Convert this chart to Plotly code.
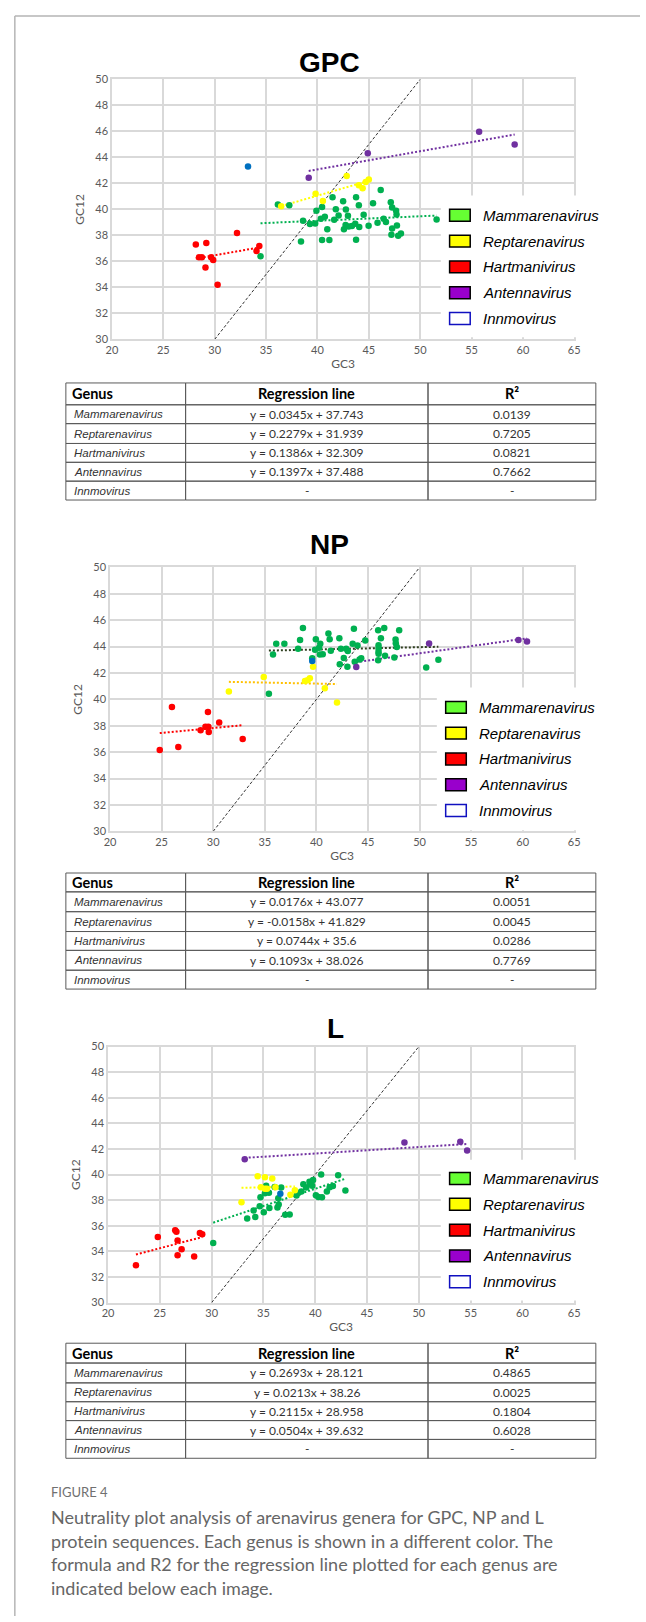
import re
import plotly.graph_objects as go

W, H = 646, 1622

# ---------------- data ----------------
GENERA = ["Mammarenavirus", "Reptarenavirus", "Hartmanivirus", "Antennavirus", "Innmovirus"]
PANELS = ["GPC", "NP", "L"]
TABLE_HEADER = ["Genus", "Regression line", "R²"]
X_TICKS = [20, 25, 30, 35, 40, 45, 50, 55, 60, 65]
Y_TICKS = [30, 32, 34, 36, 38, 40, 42, 44, 46, 48, 50]

# GPC
gpc_mamm_x = [34.46, 36.15, 37.26, 38.4, 38.6, 39.27, 39.78, 39.9, 40.45, 40.45, 40.33, 40.72, 40.96, 41.16, 41.47,
              41.63, 41.79, 42.06, 42.5, 42.58, 42.74, 42.77, 42.97, 43.05, 43.36, 43.68, 43.76, 43.76, 44.03, 44.07,
              44.5, 44.98, 45.41, 45.85, 46.16, 46.44, 46.67, 47.14, 47.27, 47.27, 47.2, 47.66, 47.7, 47.74, 47.86,
              48.13, 51.6]
gpc_mamm_y = [36.39, 40.37, 40.32, 37.52, 39.12, 38.87, 38.92, 39.89, 40.19, 37.64, 39.27, 39.43, 38.46, 37.64, 40.93,
              39.2, 40.0, 39.53, 40.62, 38.46, 38.79, 39.99, 39.5, 38.69, 38.71, 38.89, 40.93, 37.67, 40.32, 38.64,
              39.58, 38.74, 40.47, 38.97, 41.49, 39.27, 39.02, 40.55, 40.14, 38.53, 38.05, 39.89, 39.6, 38.76, 37.97,
              38.15, 39.22]
gpc_rept_x = [36.47, 39.82, 40.53, 42.85, 44.03, 44.4, 44.7, 45.0]
gpc_rept_y = [40.24, 41.21, 40.65, 42.56, 41.85, 41.62, 42.1, 42.3]
gpc_hart_x = [28.16, 29.18, 28.47, 28.75, 29.65, 29.85, 29.1, 30.28, 32.17, 34.07, 34.34]
gpc_hart_y = [37.29, 37.41, 36.32, 36.32, 36.32, 36.11, 35.53, 34.2, 38.18, 36.8, 37.18]
gpc_ante_x = [39.15, 44.9, 55.74, 59.2]
gpc_ante_y = [42.43, 44.32, 45.97, 45.0]
gpc_innm_x = [33.24]
gpc_innm_y = [43.3]
gpc_eq = ["y = 0.0345x + 37.743", "y = 0.2279x + 31.939", "y = 0.1386x + 32.309", "y = 0.1397x + 37.488", "-"]
gpc_r2 = ["0.0139", "0.7205", "0.0821", "0.7662", "-"]

# NP
np_mamm_x = [35.4, 35.8, 36.11, 36.9, 38.23, 38.42, 38.7, 39.6, 39.87, 39.95, 40.27, 40.38, 40.34, 40.62, 41.17,
             41.29, 41.4, 42.27, 42.23, 42.38, 42.66, 42.89, 43.05, 43.01, 43.52, 43.64, 43.72, 43.99, 44.19, 44.35,
             44.74, 45.99, 45.99, 46.03, 46.03, 46.03, 46.03, 46.26, 46.58, 46.66, 47.56, 47.68, 47.7, 47.8, 48.03,
             50.65, 51.83]
np_mamm_y = [40.43, 43.41, 44.21, 44.21, 43.83, 44.51, 45.41, 43.11, 43.76, 44.56, 43.91, 44.21, 43.41, 43.43, 44.99,
             44.56, 43.68, 42.66, 44.64, 43.83, 43.13, 43.83, 43.66, 42.48, 44.21, 45.36, 42.86, 44.09, 43.03, 43.11,
             44.46, 42.96, 45.24, 44.11, 43.86, 43.61, 43.46, 44.64, 45.41, 43.31, 43.18, 44.54, 44.26, 43.98, 45.24,
             42.41, 43.01]
np_rept_x = [31.52, 34.9, 38.9, 39.37, 39.15, 39.68, 40.82, 42.0]
np_rept_y = [40.6, 41.7, 41.4, 41.6, 41.45, 42.48, 40.85, 39.77]
np_hart_x = [24.82, 26.0, 26.62, 28.78, 29.25, 29.49, 29.53, 29.57, 30.58, 32.86]
np_hart_y = [36.17, 39.42, 36.39, 37.67, 37.92, 39.05, 37.92, 37.52, 38.25, 36.99]
np_ante_x = [43.87, 50.93, 59.59, 60.42]
np_ante_y = [42.46, 44.24, 44.51, 44.39]
np_innm_x = [39.6]
np_innm_y = [42.91]
np_eq = ["y = 0.0176x + 43.077", "y = -0.0158x + 41.829", "y = 0.0744x + 35.6", "y = 0.1093x + 38.026", "-"]
np_r2 = ["0.0051", "0.0045", "0.0286", "0.7769", "-"]

# L
l_mamm_x = [30.15, 33.43, 34.05, 34.21, 34.64, 34.71, 35.03, 35.14, 35.26, 35.53, 35.57, 36.08, 36.35, 36.43, 36.47,
            36.71, 37.1, 37.53, 38.19, 38.35, 38.66, 38.85, 39.13, 39.44, 39.55, 39.71, 39.79, 40.06, 40.3, 40.57,
            40.65, 41.12, 41.39, 41.7, 42.21, 42.91]
l_mamm_y = [34.66, 36.57, 37.19, 36.68, 37.53, 38.23, 37.06, 38.54, 39.13, 38.57, 37.38, 39.03, 37.43, 38.15, 37.66,
            38.98, 36.86, 36.88, 38.36, 38.56, 38.67, 39.24, 38.98, 39.44, 39.24, 39.13, 39.57, 38.38, 38.25, 40.01,
            38.23, 38.67, 39.0, 39.1, 39.94, 38.75]
l_rept_x = [32.88, 34.44, 35.14, 35.85, 34.75, 35.14, 35.34, 36.16, 37.6, 38.03]
l_rept_y = [37.84, 39.86, 39.8, 39.7, 39.0, 38.9, 38.9, 39.0, 38.43, 38.77]
l_hart_x = [22.69, 24.8, 26.48, 26.6, 26.71, 26.71, 27.1, 28.31, 28.86, 29.09]
l_hart_y = [32.92, 35.12, 35.64, 35.54, 34.84, 33.7, 34.17, 33.6, 35.43, 35.33]
l_ante_x = [33.19, 48.61, 54.0, 54.66]
l_ante_y = [41.2, 42.5, 42.57, 41.88]
l_innm_x = [36.63]
l_innm_y = [38.51]
l_eq = ["y = 0.2693x + 28.121", "y = 0.0213x + 38.26", "y = 0.2115x + 28.958", "y = 0.0504x + 39.632", "-"]
l_r2 = ["0.4865", "0.0025", "0.1804", "0.6028", "-"]

CAPTION_LABEL = "FIGURE 4"
CAPTION_LINES = [
    "Neutrality plot analysis of arenavirus genera for GPC, NP and L",
    "protein sequences. Each genus is shown in a different color. The",
    "formula and R2 for the regression line plotted for each genus are",
    "indicated below each image.",
]

# ---------------- styles ----------------
MARKER_COL = ["#00b050", "#ffff00", "#ff0000", "#7030a0", "#0070c0"]
TREND_COL = {
    "GPC": ["#00b050", "#ffff00", "#ff0000", "#7030a0"],
    "NP": ["#2f3f1f", "#ffc000", "#ff0000", "#7030a0"],
    "L": ["#00b050", "#ffff00", "#ff0000", "#7030a0"],
}
SWATCH_FILL = ["#66ff33", "#ffff00", "#ff0000", "#9900cc", "#ffffff"]
SWATCH_LINE = ["#000000", "#000000", "#000000", "#000000", "#1010c0"]

PANEL_DATA = {
    "GPC": ([gpc_mamm_x, gpc_rept_x, gpc_hart_x, gpc_ante_x, gpc_innm_x],
            [gpc_mamm_y, gpc_rept_y, gpc_hart_y, gpc_ante_y, gpc_innm_y], gpc_eq, gpc_r2),
    "NP": ([np_mamm_x, np_rept_x, np_hart_x, np_ante_x, np_innm_x],
           [np_mamm_y, np_rept_y, np_hart_y, np_ante_y, np_innm_y], np_eq, np_r2),
    "L": ([l_mamm_x, l_rept_x, l_hart_x, l_ante_x, l_innm_x],
          [l_mamm_y, l_rept_y, l_hart_y, l_ante_y, l_innm_y], l_eq, l_r2),
}

# layout geometry in pixels
PLOT_PX = {  # x0, x1, ytop, ybottom
    "GPC": (108, 579, 73, 335),
    "NP": (106, 579, 565, 831),
    "L": (104, 579, 1048, 1306),
}
TITLE_PX = {"GPC": (330, 56), "NP": (330, 542), "L": (336, 1030)}
LEGEND_PX = {  # box x0, box y0, box y1, swatch x0, text x, first row y
    "GPC": (443, 190, 333, 452, 484, 210),
    "NP": (439, 686, 830, 448, 480, 706),
    "L": (443, 1162, 1304, 452, 484, 1181),
}
TABLE_COLS_PX = [61, 183, 430, 601]
TABLE_ROWS_PX = {
    "GPC": [379, 401, 420, 440, 459, 478, 497],
    "NP": [873, 892, 912, 932, 951, 971, 990],
    "L": [1347, 1367, 1387, 1406, 1425, 1444, 1463],
}


def px(xp):
    return xp / W


def py(yp):
    return 1 - yp / H


def parse_eq(s):
    m = re.match(r"y = (-?[\d.]+)x \+ (-?[\d.]+)", s)
    if not m:
        return None
    return float(m.group(1)), float(m.group(2))


fig = go.Figure()
shapes = []
annotations = []

for i, panel in enumerate(PANELS):
    xs_all, ys_all, eqs, r2s = PANEL_DATA[panel]
    xa = "x" if i == 0 else f"x{i+1}"
    ya = "y" if i == 0 else f"y{i+1}"
    # y = x reference line
    fig.add_trace(go.Scatter(x=[30, 50], y=[30, 50], mode="lines", xaxis=xa, yaxis=ya,
                             line=dict(color="#333333", width=1, dash="3px,2px"),
                             showlegend=False, hoverinfo="skip"))
    # trendlines from the regression equations
    for g in range(4):
        coef = parse_eq(eqs[g])
        if coef is None:
            continue
        x0, x1 = min(xs_all[g]), max(xs_all[g])
        fig.add_trace(go.Scatter(x=[x0, x1], y=[coef[0] * x0 + coef[1], coef[0] * x1 + coef[1]],
                                 mode="lines", xaxis=xa, yaxis=ya,
                                 line=dict(color=TREND_COL[panel][g], width=2, dash="2px,2px"),
                                 showlegend=False, hoverinfo="skip"))
    # points
    for g in range(5):
        fig.add_trace(go.Scatter(x=xs_all[g], y=ys_all[g], mode="markers", name=GENERA[g],
                                 xaxis=xa, yaxis=ya,
                                 marker=dict(color=MARKER_COL[g], size=6.5, line=dict(width=0)),
                                 showlegend=False))

    x0p, x1p, ytp, ybp = PLOT_PX[panel]
    axis_common = dict(showgrid=True, gridcolor="#d9d9d9", gridwidth=1.5, zeroline=False,
                       showline=True, mirror=True, linecolor="#d9d9d9", linewidth=1.5,
                       ticks="", tickfont=dict(family="Lato", size=11, color="#595959"),
                       title_font=dict(family="Lato", size=12, color="#595959"))
    fig.update_layout({
        ("xaxis" if i == 0 else f"xaxis{i+1}"): dict(
            domain=[px(x0p), px(x1p)], range=[20, 65], tickvals=X_TICKS, anchor=ya,
            title=dict(text="GC3", standoff=4), **axis_common),
        ("yaxis" if i == 0 else f"yaxis{i+1}"): dict(
            domain=[py(ybp), py(ytp)], range=[30, 50], tickvals=Y_TICKS, anchor=xa,
            title=dict(text="GC12", standoff=8), **axis_common),
    })

    # panel title
    tx, ty = TITLE_PX[panel]
    annotations.append(dict(x=px(tx), y=py(ty), xref="paper", yref="paper", text=f"<b>{panel}</b>",
                            showarrow=False, xanchor="center", yanchor="middle",
                            font=dict(family="Liberation Sans", size=28, color="#000000")))

    # legend (box, swatches, labels)
    bx0, by0, by1, sx0, tx0, ry0 = LEGEND_PX[panel]
    shapes.append(dict(type="rect", xref="paper", yref="paper", layer="above",
                       x0=px(bx0), x1=px(W), y0=py(by1), y1=py(by0),
                       fillcolor="#ffffff", line=dict(width=0)))
    for g in range(5):
        cy = ry0 + 26 * g
        shapes.append(dict(type="rect", xref="paper", yref="paper", layer="above",
                           x0=px(sx0), x1=px(sx0 + 21), y0=py(cy + 6), y1=py(cy - 6),
                           fillcolor=SWATCH_FILL[g], line=dict(color=SWATCH_LINE[g], width=1.5)))
        annotations.append(dict(x=px(tx0), y=py(cy), xref="paper", yref="paper",
                                text=f"<i>{GENERA[g]}</i>", showarrow=False,
                                xanchor="left", yanchor="middle",
                                font=dict(family="Liberation Sans", size=15, color="#000000")))

    # regression table: header row + one row per genus
    rows = TABLE_ROWS_PX[panel]
    table_rows = [TABLE_HEADER] + [[GENERA[g], eqs[g], r2s[g]] for g in range(5)]
    for r, row in enumerate(table_rows):
        ya0, ya1 = rows[r], rows[r + 1]
        cy = (ya0 + ya1) / 2
        for c, val in enumerate(row):
            xc0, xc1 = TABLE_COLS_PX[c], TABLE_COLS_PX[c + 1]
            shapes.append(dict(type="rect", xref="paper", yref="paper", layer="above",
                               x0=px(xc0), x1=px(xc1), y0=py(ya1), y1=py(ya0),
                               fillcolor="rgba(0,0,0,0)", line=dict(color="#5a5a5a", width=1)))
            if r == 0:
                txt, fam, size, col = f"<b>{val}</b>", "Lato", 14.5, "#000000"
            elif c == 0:
                txt, fam, size, col = f"<i>{val}</i>", "Liberation Sans", 11.5, "#333333"
            else:
                txt, fam, size, col = val, "Lato", 12, "#333333"
            if c == 0:
                ax, anchor = xc0 + (4 if r == 0 else 6), "left"
            else:
                ax, anchor = (xc0 + xc1) / 2, "center"
            annotations.append(dict(x=px(ax), y=py(cy), xref="paper", yref="paper", text=txt,
                                    showarrow=False, xanchor=anchor, yanchor="middle",
                                    font=dict(family=fam, size=size, color=col)))

# caption
annotations.append(dict(x=px(44), y=py(1497), xref="paper", yref="paper", text=CAPTION_LABEL,
                        showarrow=False, xanchor="left", yanchor="middle",
                        font=dict(family="Lato", size=13, color="#707070")))
for k, line in enumerate(CAPTION_LINES):
    annotations.append(dict(x=px(44), y=py(1522 + 24 * k), xref="paper", yref="paper", text=line,
                            showarrow=False, xanchor="left", yanchor="middle",
                            font=dict(family="Lato", size=18, color="#666666")))

# page frame
shapes.append(dict(type="line", xref="paper", yref="paper", x0=px(9), x1=px(W), y0=py(9), y1=py(9),
                   line=dict(color="#b5b5b5", width=1.5)))
shapes.append(dict(type="line", xref="paper", yref="paper", x0=px(9), x1=px(9), y0=py(9), y1=py(H),
                   line=dict(color="#b5b5b5", width=1.5)))

fig.update_layout(width=W, height=H, margin=dict(l=0, r=0, t=0, b=0),
                  paper_bgcolor="#ffffff", plot_bgcolor="#ffffff", showlegend=False,
                  shapes=shapes, annotations=annotations,
                  font=dict(family="Lato", color="#595959"))

fig.write_html("out.html", config={"displayModeBar": False},
               post_script="document.body.style.margin='0';")
